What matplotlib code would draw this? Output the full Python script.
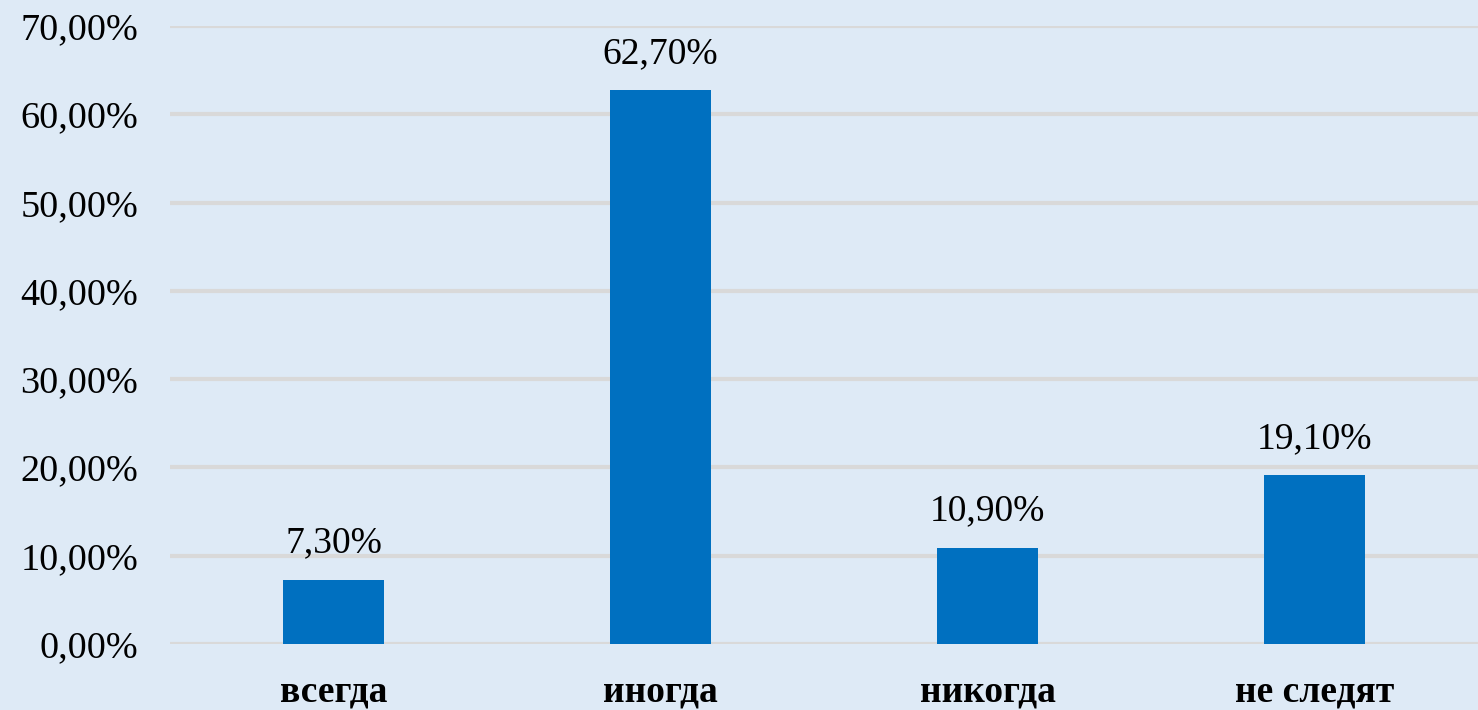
import matplotlib.pyplot as plt
from matplotlib.ticker import FuncFormatter

# Данные диаграммы
categories = ["всегда", "иногда", "никогда", "не следят"]
values = [7.3, 62.7, 10.9, 19.1]
y_ticks = [0, 10, 20, 30, 40, 50, 60, 70]

bg_color = "#DEEAF6"
bar_color = "#0070C0"
grid_color = "#D9D9D9"

plt.rcParams['font.family'] = ['Liberation Serif', 'DejaVu Serif']

fig = plt.figure(figsize=(14.78, 7.10), dpi=100)
fig.patch.set_facecolor(bg_color)
ax = fig.add_axes([170 / 1478, 1 - 644 / 710, 1308 / 1478, (644 - 26) / 710])
ax.set_facecolor(bg_color)

x = list(range(len(categories)))
ax.bar(x, values, width=0.31, color=bar_color, zorder=3)

for xi, v in zip(x, values):
    ax.annotate(f"{v:.2f}%".replace(".", ","), (xi, v), xytext=(0, 14),
                textcoords="offset points", ha="center", va="bottom",
                fontsize=27, color="black")

ax.set_xlim(-0.5, len(categories) - 0.5)
ax.set_ylim(0, 70)
ax.set_yticks(y_ticks)
ax.yaxis.set_major_formatter(FuncFormatter(lambda v, p: f"{v:.2f}%".replace(".", ",")))
ax.set_xticks(x)
ax.set_xticklabels(categories, fontsize=27, fontweight="bold")
ax.tick_params(axis="y", labelsize=27.5, length=0, pad=23)
ax.tick_params(axis="x", length=0, pad=22)

ax.grid(axis="y", color=grid_color, linewidth=3, zorder=0)
ax.set_axisbelow(True)
for s in ax.spines.values():
    s.set_visible(False)

fig.savefig("out.png", dpi=100, facecolor=bg_color)
